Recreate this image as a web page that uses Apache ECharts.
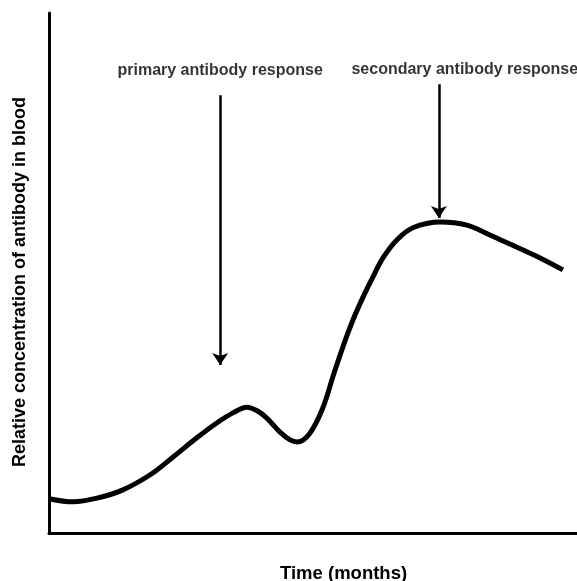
<!DOCTYPE html>
<html>
<head>
<meta charset="utf-8">
<script src="https://cdn.jsdelivr.net/npm/echarts@6/dist/echarts.min.js"></script>
<style>html,body{margin:0;padding:0;background:#fff}#c{width:577px;height:581px}</style>
</head>
<body>
<div id="c"></div>
<script>
// Time (arbitrary month units) and relative antibody concentration (0-100 scale)
const timeMonths = [0, 0.55, 1.09, 1.68, 2.30, 2.82, 3.36, 3.82, 4.18, 4.50, 4.73, 4.95, 5.25, 5.48, 5.64, 5.93, 6.23, 6.45, 6.68, 6.91, 7.14, 7.36, 7.59, 7.91, 8.27, 8.89, 9.50, 10.02, 10.41, 11.16, 11.68];
const antibodyLevel = [6.6, 6.0, 6.7, 8.3, 11.2, 14.6, 18.3, 21.2, 23.1, 24.2, 23.5, 22.1, 19.4, 17.9, 17.5, 19.2, 24.2, 30.0, 35.8, 41.0, 45.4, 49.2, 52.9, 56.4, 58.7, 59.8, 59.2, 57.3, 55.8, 52.9, 50.6];

// Annotations
const annotationLabels = ['primary antibody response', 'secondary antibody response'];
const labelX = [3.89, 9.45];
const labelY = [89.0, 89.2];
const arrowX = [3.89, 8.86];
const arrowTop = [84.2, 86.3];
const arrowTip = [32.3, 60.6];

const xTitle = 'Time (months)';
const yTitle = 'Relative concentration of antibody in blood';

const chart = echarts.init(document.getElementById('c'));
const curve = timeMonths.map((t, i) => [t, antibodyLevel[i]]);
const FONT = '"Liberation Sans", Arial, sans-serif';

chart.setOption({
  animation: false,
  backgroundColor: '#fff',
  grid: { left: 49, right: 0, top: 13, bottom: 48 },
  xAxis: {
    type: 'value', min: 0, max: 12,
    axisLine: { show: true, lineStyle: { color: '#000', width: 3 } },
    axisTick: { show: false }, axisLabel: { show: false }, splitLine: { show: false }
  },
  yAxis: {
    type: 'value', min: 0, max: 100,
    axisLine: { show: true, lineStyle: { color: '#000', width: 3 } },
    axisTick: { show: false }, axisLabel: { show: false }, splitLine: { show: false }
  },
  graphic: [
    { type: 'text', left: 280, top: 564, style: { text: xTitle, font: 'bold 18.5px ' + FONT, fill: '#000' } },
    { type: 'text', x: 20, y: 282, rotation: Math.PI / 2, style: { text: yTitle, font: 'bold 18px ' + FONT, fill: '#000', align: 'center', verticalAlign: 'middle' } }
  ],
  series: [
    {
      type: 'line', data: curve, smooth: 0.35, symbol: 'none',
      lineStyle: { color: '#000', width: 5 },
      markLine: {
        silent: true, symbol: ['none', 'arrow'], symbolSize: 12,
        label: { show: false },
        lineStyle: { color: '#000', width: 2.5, type: 'solid' },
        data: arrowX.map((x, i) => [{ coord: [x, arrowTop[i]] }, { coord: [x, arrowTip[i]] }])
      }
    },
    {
      type: 'scatter', symbolSize: 0, silent: true,
      data: annotationLabels.map((n, i) => ({ value: [labelX[i], labelY[i]], name: n })),
      label: { show: true, position: 'inside', formatter: p => p.name, color: '#000', fontSize: 16, fontWeight: 'bold', fontFamily: FONT }
    }
  ]
});
</script>
</body>
</html>
